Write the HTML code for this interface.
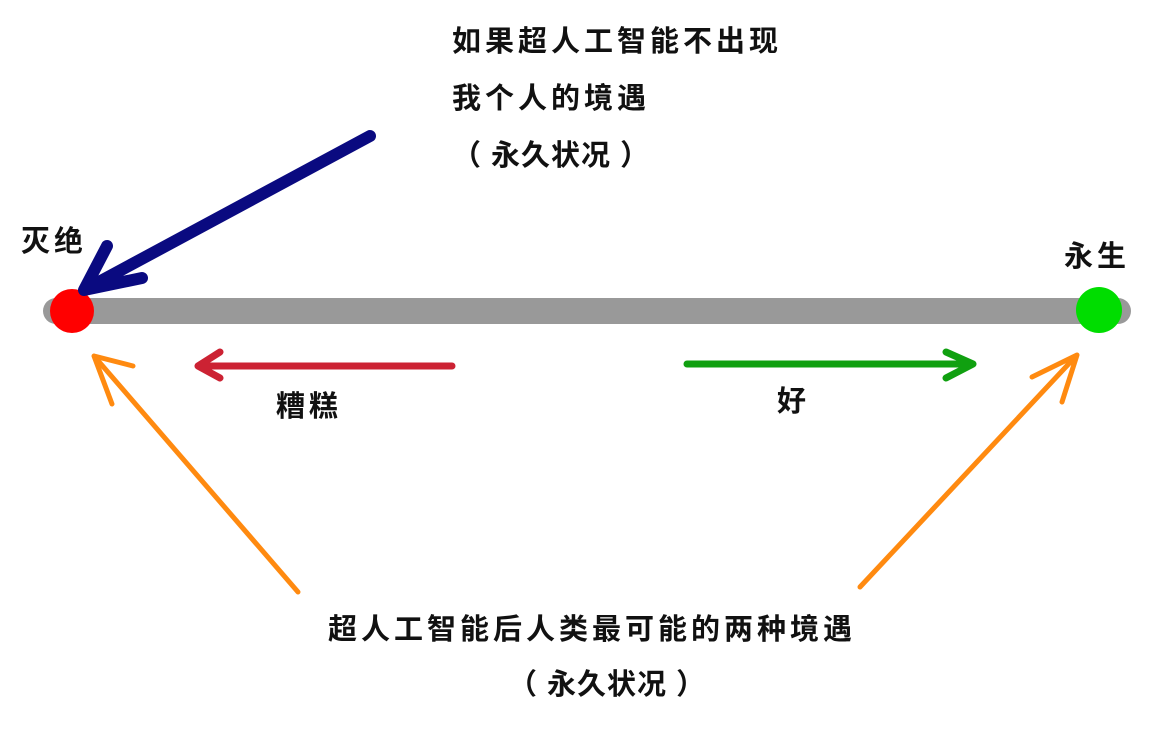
<!DOCTYPE html>
<html><head><meta charset="utf-8"><style>
html,body{margin:0;padding:0;background:#fff;width:1152px;height:752px;overflow:hidden}
text{font-family:"Liberation Sans","Noto Sans CJK SC",sans-serif;font-weight:bold;font-size:29px;letter-spacing:4px;fill:#111}
text.p{letter-spacing:1px}
</style></head><body>
<svg width="1152" height="752" viewBox="0 0 1152 752" xmlns="http://www.w3.org/2000/svg">
<line x1="56" y1="311" x2="1118" y2="311" stroke="#999" stroke-width="26" stroke-linecap="round"/>
<circle cx="72" cy="311" r="22" fill="#f00"/>
<circle cx="1099" cy="310" r="23" fill="#0d0"/>
<g fill="none" stroke-linecap="round" stroke-linejoin="round">
<path d="M370 136 L84 290 M107 246 L84 290 L142 278" stroke="#0a0a80" stroke-width="12"/>
<path d="M452 366 L198 366 M220 352 L198 366 L220 378" stroke="#cc2233" stroke-width="7"/>
<path d="M687 364 L973 364 M946 352 L973 364 L946 378" stroke="#10a010" stroke-width="7"/>
<path d="M298 592 L94 356 M133 366 L94 356 L112 404" stroke="#ff8a10" stroke-width="5"/>
<path d="M860 587 L1077 355 M1032 377 L1077 355 L1062 402" stroke="#ff8a10" stroke-width="5"/>
</g>
<text x="452" y="51">如果超人工智能不出现</text>
<text x="452" y="108">我个人的境遇</text>
<text class="p" x="452" y="165">（ 永久状况 ）</text>
<text x="21" y="251">灭绝</text>
<text x="1064" y="266">永生</text>
<text x="276" y="416">糟糕</text>
<text x="777" y="411">好</text>
<text x="328" y="639">超人工智能后人类最可能的两种境遇</text>
<text class="p" x="508" y="694">（ 永久状况 ）</text>
</svg>
</body></html>
